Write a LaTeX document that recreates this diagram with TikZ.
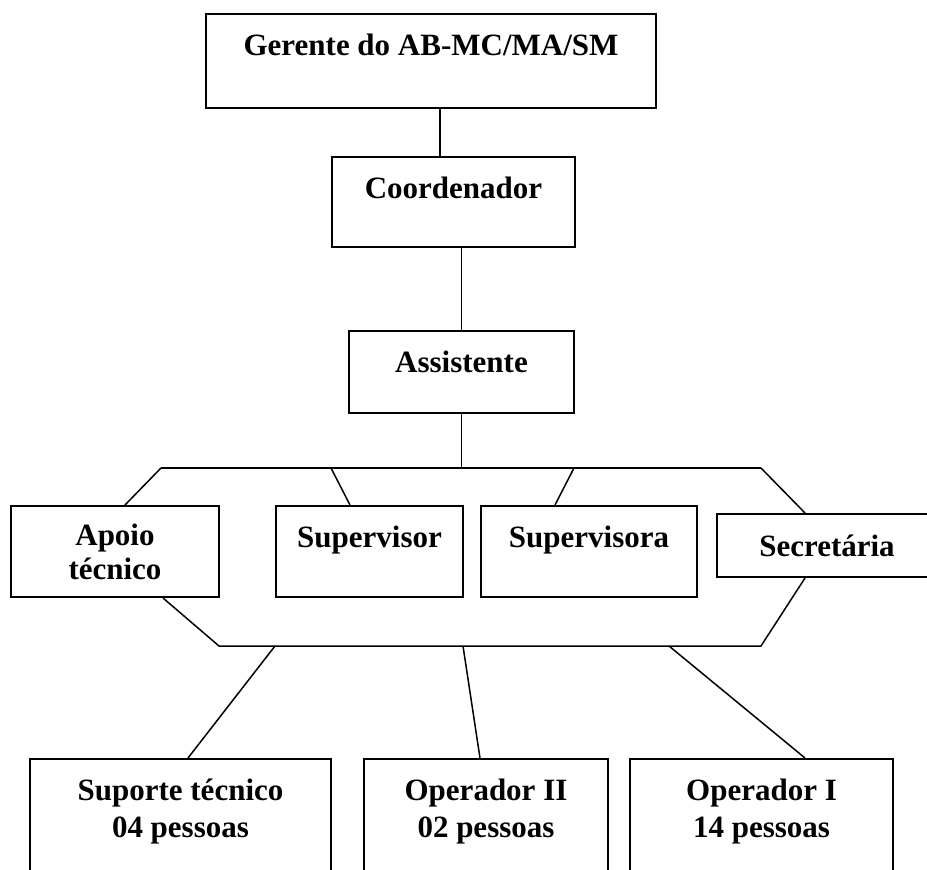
\documentclass[tikz,border=0pt]{standalone}
\usepackage{fontspec}
\setmainfont{Liberation Serif}
\tikzset{caixa/.style={draw, line width=2pt, align=center, inner sep=0pt,
    font=\bfseries\fontsize{31}{37}\selectfont},
  liga/.style={line width=1.5pt}}

\begin{document}
\begin{tikzpicture}[x=1pt, y=-1pt]
  \useasboundingbox (0,0) rectangle (927,870);
  \clip (0,0) rectangle (927,870);
  % chefia
  \node[caixa, minimum width=450pt, minimum height=94pt, text depth=33pt] (gerente) at (431,61) {Gerente do AB-MC/MA/SM};
  \node[caixa, minimum width=243pt, minimum height=90pt, text depth=29pt] (coord) at (453.5,202) {Coordenador};
  \node[caixa, minimum width=225pt, minimum height=82pt, text depth=21pt] (assist) at (461.5,372) {Assistente};
  % linha do meio
  \node[caixa, minimum width=208pt, minimum height=91pt, text depth=-4pt] (apoio) at (115,551.5) {Apoio\\[-3pt]técnico};
  \node[caixa, minimum width=187pt, minimum height=91pt, text depth=30pt] (superv) at (369.5,551.5) {Supervisor};
  \node[caixa, minimum width=216pt, minimum height=91pt, text depth=30pt] (supervA) at (589,551.5) {Supervisora};
  \node[caixa, minimum width=220pt, minimum height=63pt] (secret) at (827,545.5) {Secretária};
  % equipes
  \node[caixa, minimum width=301pt, minimum height=140pt, text depth=42pt] (suporte) at (180.5,829) {Suporte técnico\\04 pessoas};
  \node[caixa, minimum width=244pt, minimum height=140pt, text depth=42pt] (opII) at (486,829) {Operador II\\02 pessoas};
  \node[caixa, minimum width=263pt, minimum height=140pt, text depth=42pt] (opI) at (761.5,829) {Operador I\\14 pessoas};

  \coordinate (bar-l) at (161,468);
  \coordinate (bar-2) at (331,468);
  \coordinate (bar-3) at (574,468);
  \coordinate (bar-r) at (761,468);
  \coordinate (low-l) at (219,646);
  \coordinate (low-1) at (275,646);
  \coordinate (low-2) at (463,646);
  \coordinate (low-3) at (669,646);
  \coordinate (low-r) at (761,646);

  \draw[liga] ([xshift=9pt]gerente.south) -- ([xshift=9pt]gerente.south |- coord.north);
  \draw[liga] (assist.north) -- (assist.north |- coord.south);
  \draw[liga] (assist.south) -- (assist.south |- bar-l);
  \draw[liga] (bar-l) -- (bar-r);
  \draw[liga] (bar-l) -- ([xshift=10pt]apoio.north);
  \draw[liga] (bar-2) -- ([xshift=-19.5pt]superv.north);
  \draw[liga] (bar-3) -- ([xshift=-34pt]supervA.north);
  \draw[liga] (bar-r) -- ([xshift=-22pt]secret.north);

  \draw[liga] ([xshift=48pt]apoio.south) -- (low-l) -- (low-r) -- ([xshift=-22pt]secret.south);
  \draw[liga] (low-1) -- ([xshift=7.5pt]suporte.north);
  \draw[liga] (low-2) -- ([xshift=-6pt]opII.north);
  \draw[liga] (low-3) -- ([xshift=43.5pt]opI.north);
\end{tikzpicture}
\end{document}
